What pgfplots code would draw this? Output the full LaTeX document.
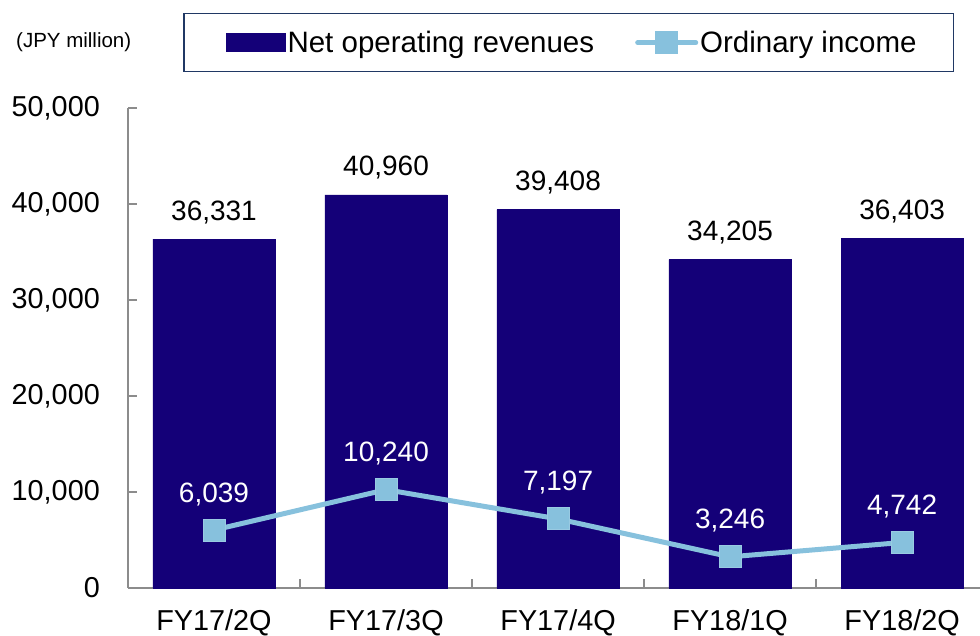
\documentclass[border=0pt]{standalone}
\usepackage{fontspec}
\setmainfont{Liberation Sans}
\usepackage{pgfplots}
\pgfplotsset{compat=1.18}

\definecolor{barcol}{HTML}{140078}
\definecolor{linecol}{HTML}{87C1DD}
\definecolor{legcol}{HTML}{203864}
\definecolor{axisgray}{HTML}{8C8C8C}
\newcommand{\fs}{\fontsize{28}{32}\selectfont}
\newcommand{\fst}{\fontsize{28.8}{32}\selectfont}
\newcommand{\fsl}{\fontsize{29.5}{33}\selectfont}

\begin{document}
\begin{tikzpicture}
\path[use as bounding box] (0,0) rectangle (980pt,635pt);
\node[anchor=base west, inner sep=0pt, font=\fontsize{20.5}{22}\selectfont] at (16pt,587pt) {(JPY million)};
\begin{axis}[
    at={(128pt,47pt)}, anchor=south west,
    scale only axis, width=852pt, height=480pt,
    xmin=-0.5, xmax=4.453, ymin=0, ymax=50000,
    axis x line*=bottom, axis y line*=left,
    axis line style={draw=axisgray, line width=1.2pt},
    tick align=inside, major tick length=9pt, minor tick length=9pt,
    tick style={draw=axisgray, line width=1.2pt},
    xtick={0,...,4},
    xticklabels={FY17/2Q, FY17/3Q, FY17/4Q, FY18/1Q, FY18/2Q},
    major x tick style={draw=none},
    minor xtick={0.5,1.5,2.5,3.5},
    ytick={0,10000,...,50000},
    scaled y ticks=false,
    /pgf/number format/assume math mode=true,
    /pgf/number format/1000 sep={,},
    ticklabel style={font=\fst},
    yticklabel style={anchor=east, inner sep=0pt, xshift=-28pt},
    xticklabel style={anchor=north, inner sep=0pt, yshift=-21pt},
    legend style={at={(0.0646,1.198)}, anchor=north west,
        draw=legcol, line width=1.5pt, font=\fsl,
        inner xsep=35pt, inner ysep=15.5pt,
        nodes={inner sep=2pt},
        /tikz/every even column/.append style={column sep=39pt}},
    legend columns=2,
    legend cell align=left,
]
\addplot[ybar, bar width=0.71, fill=barcol, draw=barcol,
    nodes near coords,
    every node near coord/.append style={font=\fs, text=black, anchor=base, inner sep=0pt, yshift=19pt},
    legend image code/.code={\path[draw=none, fill=none] (-8pt,0pt) rectangle (0pt,0.1pt);
        \fill[barcol] (0pt,-8.5pt) rectangle (58pt,8.5pt);}]
  coordinates {(0,36331) (1,40960) (2,39408) (3,34205) (4,36403)};
\addlegendentry{Net operating revenues}
\addplot[linecol, line width=5pt, mark=square*, mark size=11pt,
    mark options={fill=linecol, draw=linecol!85!white, line width=1pt},
    nodes near coords,
    every node near coord/.append style={font=\fs, text=white, anchor=base, inner sep=0pt, yshift=28pt},
    legend image code/.code={\draw[linecol, line width=5pt, line cap=round] (0pt,0pt) -- (58pt,0pt);
        \fill[linecol] (20pt,-9pt) rectangle (38pt,9pt);}]
  coordinates {(0,6039) (1,10240) (2,7197) (3,3246) (4,4742)};
\addlegendentry{Ordinary income}
\end{axis}
\end{tikzpicture}
\end{document}
